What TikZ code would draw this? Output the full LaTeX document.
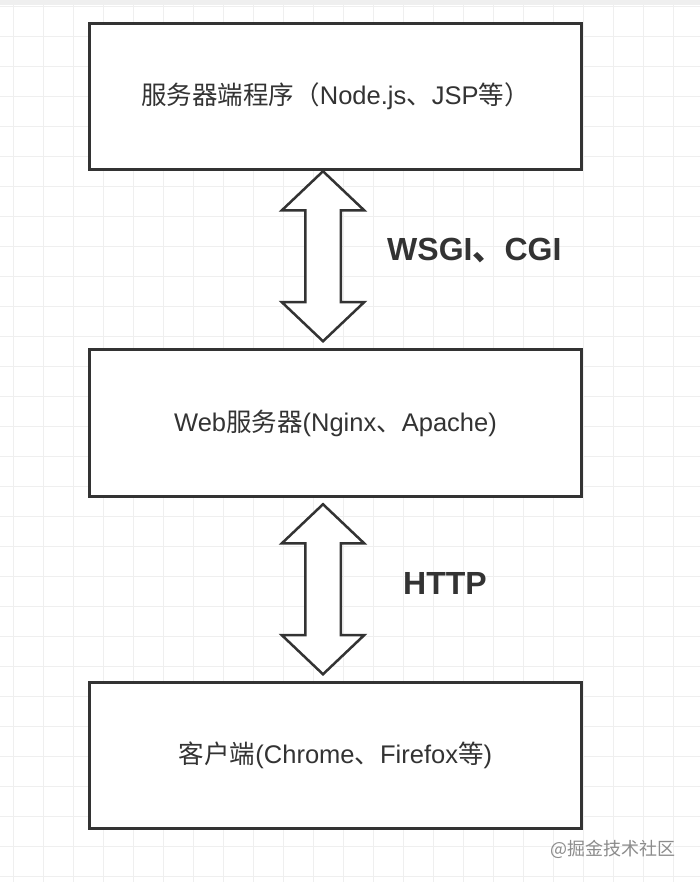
\documentclass[tikz,border=0pt]{standalone}
\usepackage{fontspec}
\setmainfont{Liberation Sans}
\newfontfamily\cjk{Noto Sans CJK SC}
\usetikzlibrary{positioning,shapes.arrows,calc}
\definecolor{inkgray}{HTML}{333333}
\definecolor{gridgray}{HTML}{EFEFEF}
\definecolor{markgray}{HTML}{8C8C8C}

\begin{document}
\begin{tikzpicture}[x=1pt,y=-1pt,
    box/.style={rectangle,draw=inkgray,line width=3pt,fill=white,minimum width=492pt,minimum height=146.5pt,text=inkgray,font=\fontsize{25.5pt}{30pt}\selectfont},
    dblarrow/.style={double arrow,draw=inkgray,line width=2.5pt,fill=white,rotate=90,minimum height=170pt,minimum width=0pt,inner sep=16.5pt,double arrow head extend=23.5pt,double arrow tip angle=93},
    proto/.style={text=inkgray,font=\fontsize{32pt}{38pt}\selectfont\bfseries,anchor=base west,inner sep=0pt}]

    \useasboundingbox (0,0) rectangle (700,882);
    \fill[white] (0,0) rectangle (700,882);
    \fill[gridgray] (0,0) rectangle (700,5);
    % grid
    \foreach \gx in {0,...,23}
        \draw[gridgray,line width=1.2pt] (13.5+30*\gx,0) -- (13.5+30*\gx,882);
    \foreach \gy in {0,...,29}
        \draw[gridgray,line width=1.2pt] (0,6.5+30*\gy) -- (700,6.5+30*\gy);

    \node[box] (srv) at (335.5,96.5) {{\cjk 服务器端程序（}Node.js{\cjk 、}JSP{\cjk 等）}};
    \node[box] (web) [below=177pt of srv] {Web{\cjk 服务器}(Nginx{\cjk 、}Apache)};
    \node[box] (cli) [below=183pt of web] {{\cjk 客户端}(Chrome{\cjk 、}Firefox{\cjk 等})};

    \node[dblarrow] (arrA) at ($(srv.south)!0.5!(web.north)+(-12.5,-3.5)$) {};
    \node[dblarrow] (arrB) at ($(web.south)!0.5!(cli.north)+(-12.5,0)$) {};

    \node[proto] (wsgi) at (387,261) {WSGI{\cjk 、}CGI};
    \node[proto] (http) at (403,594) {HTTP};

    \node[text=markgray,font=\fontsize{18pt}{22pt}\selectfont,anchor=base east,inner sep=0pt] (mark) at (676,855) {{\cjk @掘金技术社区}};
\end{tikzpicture}
\end{document}
